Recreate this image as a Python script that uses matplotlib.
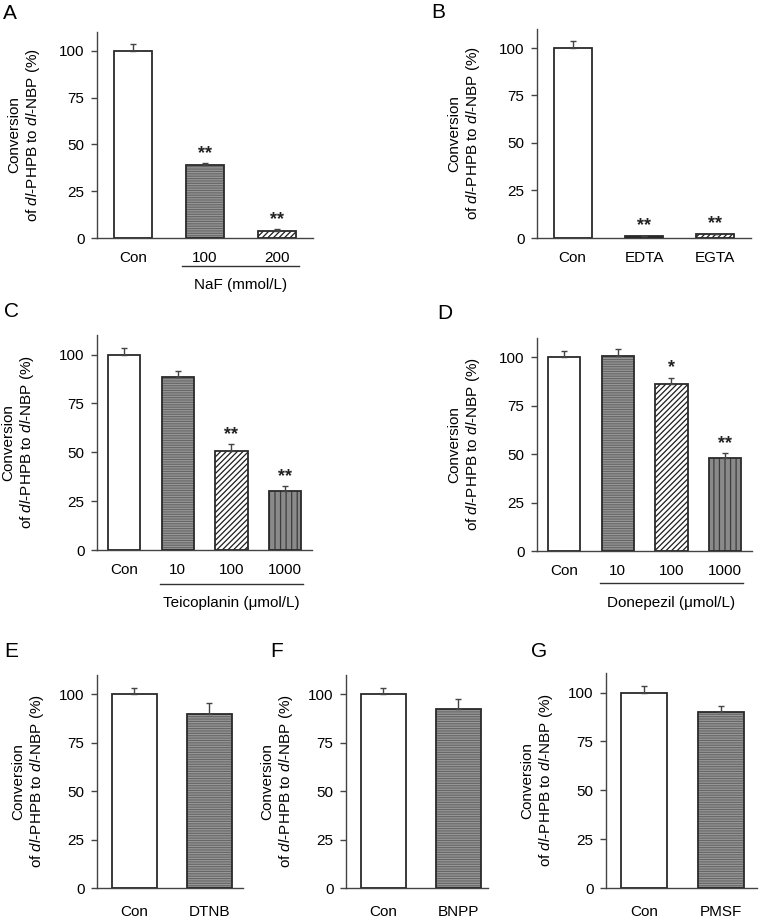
import numpy as np
import matplotlib
matplotlib.use("Agg")
import matplotlib.pyplot as plt
from matplotlib.transforms import offset_copy, blended_transform_factory

plt.rcParams['font.family'] = ['Liberation Sans', 'DejaVu Sans']
plt.rcParams['mathtext.fontset'] = 'custom'
plt.rcParams['mathtext.rm'] = 'Liberation Sans'
plt.rcParams['mathtext.it'] = 'Liberation Sans:italic'
plt.rcParams['hatch.linewidth'] = 0.9

# ---- data ----
a_labels = ['Con', '100', '200']
a_values = [100, 39, 4]
a_errors = [3.5, 1.0, 0.6]
a_stars = ['', '**', '**']

b_labels = ['Con', 'EDTA', 'EGTA']
b_values = [100, 1, 2]
b_errors = [3.5, 0.3, 0.3]
b_stars = ['', '**', '**']

c_labels = ['Con', '10', '100', '1000']
c_values = [100, 88.5, 50.5, 30]
c_errors = [3.5, 3.0, 3.5, 2.6]
c_stars = ['', '', '**', '**']

d_labels = ['Con', '10', '100', '1000']
d_values = [100, 100.5, 86, 48]
d_errors = [3.5, 4.0, 3.5, 2.5]
d_stars = ['', '', '*', '**']

e_labels = ['Con', 'DTNB']
e_values = [100, 90]
e_errors = [3.5, 5.3]

f_labels = ['Con', 'BNPP']
f_values = [100, 92.5]
f_errors = [3.5, 5.2]

g_labels = ['Con', 'PMSF']
g_values = [100, 90]
g_errors = [3.5, 3.0]

# ---- bar fill styles: (face, hatch, hatch colour) ----
STYLES = {
    'white': ('white', None, 'white'),
    'hline': ('#666666', '-' * 7, '#979797'),
    'diag': ('white', '/' * 6, '#1e1e1e'),
    'vline': ('#8a8a8a', '|' * 3, '#3c3c3c'),
    'black': ('#222222', None, '#222222'),
}

YLABEL = 'Conversion\nof $\\mathit{dl}$-PHPB to $\\mathit{dl}$-NBP (%)'

W, H = 763, 921
fig = plt.figure(figsize=(W / 100, H / 100), dpi=100)


def make_axes(l, t, r, b):
    return fig.add_axes([l / W, 1 - b / H, (r - l) / W, (b - t) / H])


def draw_panel(ax, labels, values, errors, styles, stars=None, width=0.6,
               xright=None, ylab_dx=72, xpad=9):
    x = np.arange(len(values))
    for xi, v, e, st in zip(x, values, errors, styles):
        face, hatch, hcol = STYLES[st]
        ax.bar(xi, v, width, color=face, hatch=hatch, edgecolor=hcol,
               linewidth=0, zorder=2)
        ax.bar(xi, v, width, fill=False, edgecolor='#2a2a2a', linewidth=1.3,
               zorder=3)
        ax.errorbar(xi, v, yerr=[[0], [e]], fmt='none', ecolor='#444444',
                    elinewidth=1.0, capsize=2, capthick=1.0, zorder=4)
    if stars:
        for xi, v, e, s in zip(x, values, errors, stars):
            if s:
                ax.annotate(s, (xi, v + e), xytext=(0, 1),
                            textcoords='offset points', ha='center',
                            va='bottom', fontsize=13, fontweight='bold',
                            color='#222222')
    ax.set_ylim(0, 110)
    ax.set_xlim(-0.5, xright if xright is not None else len(values) - 0.5)
    ax.set_yticks([0, 25, 50, 75, 100])
    ax.set_xticks(x)
    ax.set_xticklabels(labels)
    ax.tick_params(axis='x', length=0, pad=xpad, labelsize=11)
    ax.tick_params(axis='y', length=4, width=1, pad=5, labelsize=11,
                   color='#444444')
    for side in ['top', 'right']:
        ax.spines[side].set_visible(False)
    for side in ['left', 'bottom']:
        ax.spines[side].set_color('#444444')
        ax.spines[side].set_linewidth(1.0)
    trans = offset_copy(ax.transAxes, fig=fig, x=-ylab_dx, units='dots')
    ax.text(0, 0.5, YLABEL, transform=trans, rotation=90, ha='center',
            va='center', multialignment='center', fontsize=11)


def add_group(ax, x0, x1, text, dy_line, dy_text):
    base = blended_transform_factory(ax.transData, ax.transAxes)
    tline = offset_copy(base, fig=fig, y=-dy_line, units='dots')
    ax.plot([x0, x1], [0, 0], color='#333333', lw=1.0, transform=tline,
            clip_on=False)
    ttext = offset_copy(base, fig=fig, y=-dy_text, units='dots')
    ax.text((x0 + x1) / 2, 0, text, transform=ttext, ha='center',
            va='center', fontsize=11)


def panel_letter(x, y, s):
    fig.text(x / W, 1 - y / H, s, ha='left', va='top', fontsize=15)


# A
ax = make_axes(97, 32, 313, 238)
draw_panel(ax, a_labels, a_values, a_errors, ['white', 'hline', 'diag'],
           a_stars, width=0.53)
add_group(ax, 0.68, 2.3, 'NaF (mmol/L)', 28, 47)
panel_letter(3, 4, 'A')

# B
ax = make_axes(537, 29, 751, 238)
draw_panel(ax, b_labels, b_values, b_errors, ['white', 'black', 'diag'],
           b_stars, width=0.53)
panel_letter(431, 3, 'B')

# C
ax = make_axes(97, 335, 312, 550)
draw_panel(ax, c_labels, c_values, c_errors,
           ['white', 'hline', 'diag', 'vline'], c_stars, width=0.6,
           ylab_dx=78)
add_group(ax, 0.67, 3.33, 'Teicoplanin (\u03bcmol/L)', 34, 53)
panel_letter(4, 302, 'C')

# D
ax = make_axes(537, 338, 752, 551)
draw_panel(ax, d_labels, d_values, d_errors,
           ['white', 'hline', 'diag', 'vline'], d_stars, width=0.6)
add_group(ax, 0.67, 3.33, 'Donepezil (\u03bcmol/L)', 32, 52)
panel_letter(437, 304, 'D')

# E, F, G
ax = make_axes(97, 675, 243, 888)
draw_panel(ax, e_labels, e_values, e_errors, ['white', 'hline'],
           width=0.6, xright=1.45, ylab_dx=68, xpad=12)
panel_letter(4, 642, 'E')

ax = make_axes(346, 675, 488, 888)
draw_panel(ax, f_labels, f_values, f_errors, ['white', 'hline'],
           width=0.6, xright=1.4, ylab_dx=68, xpad=12)
panel_letter(270, 642, 'F')

ax = make_axes(606, 673, 757, 888)
draw_panel(ax, g_labels, g_values, g_errors, ['white', 'hline'],
           width=0.6, xright=1.47, ylab_dx=68, xpad=12)
panel_letter(531, 642, 'G')

fig.savefig('out.png', dpi=100)
